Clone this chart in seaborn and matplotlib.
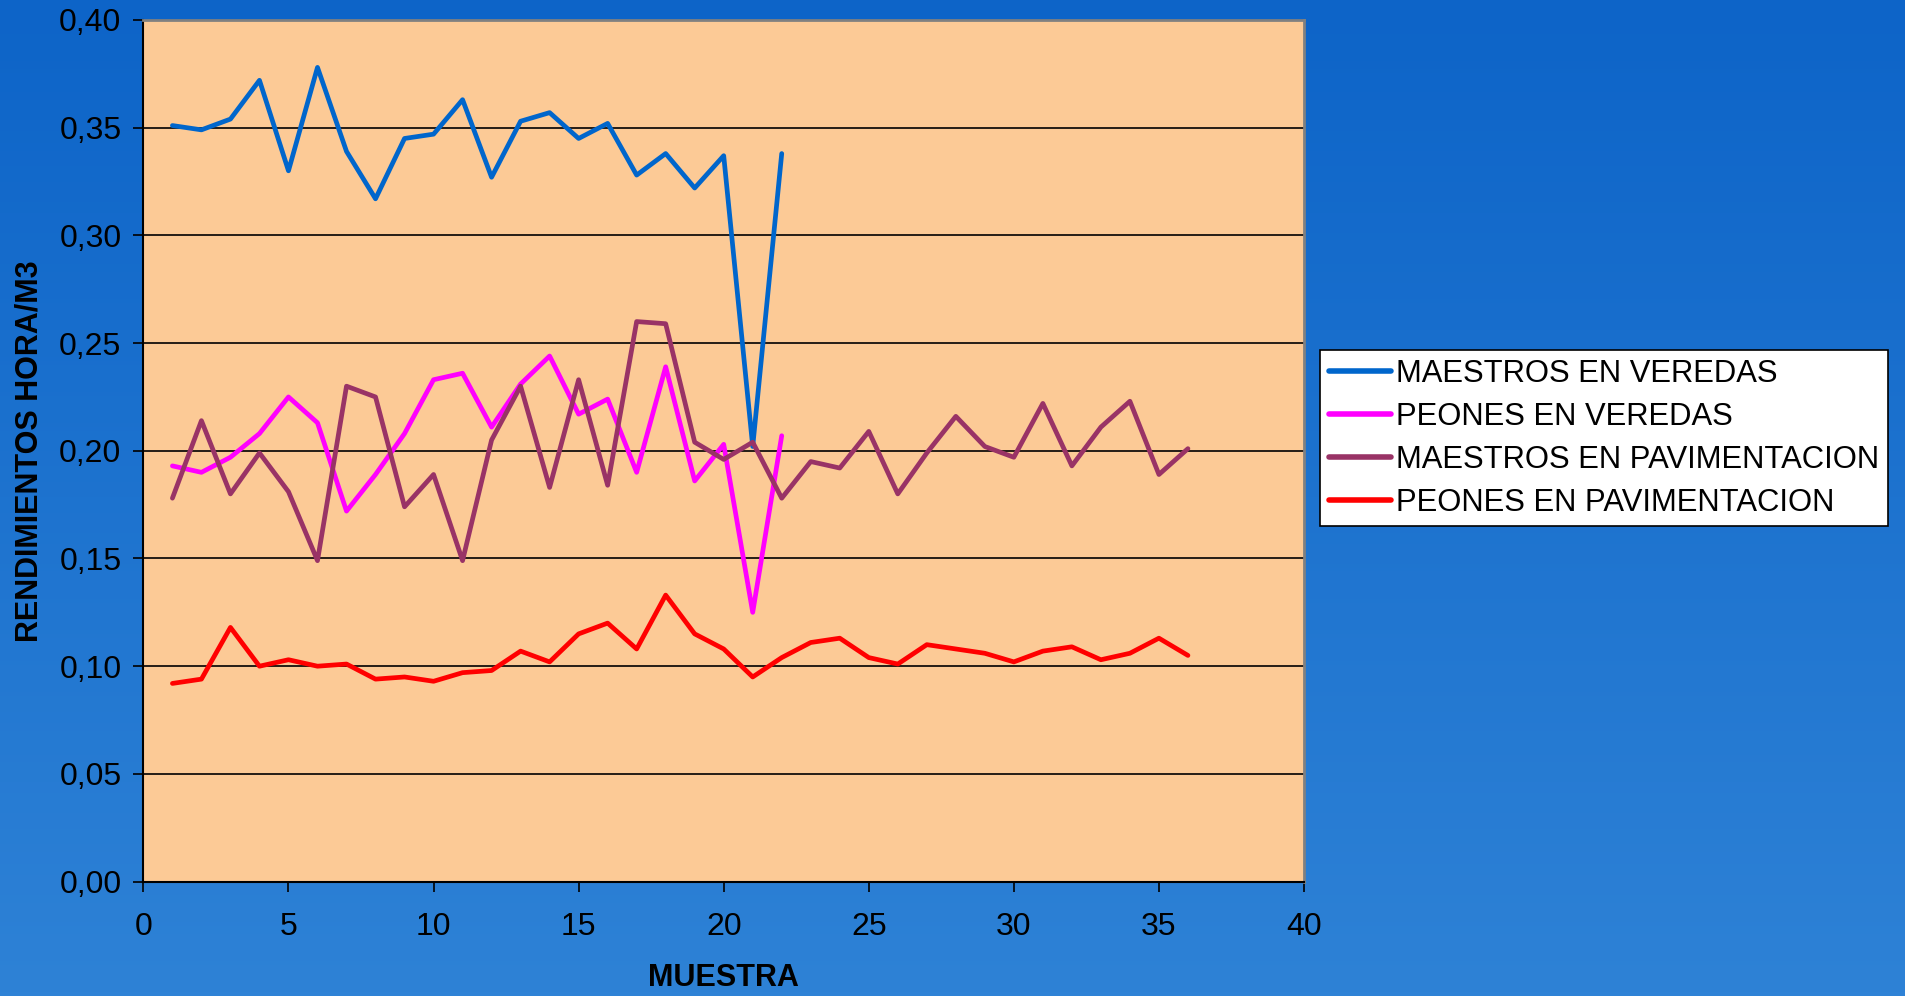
import numpy as np
import pandas as pd
import matplotlib
matplotlib.use("Agg")
import matplotlib.pyplot as plt
from matplotlib.ticker import FuncFormatter, MultipleLocator
import seaborn as sns

# ---- data ----
maestros_veredas = [0.351, 0.349, 0.354, 0.372, 0.330, 0.378, 0.339, 0.317, 0.345, 0.347,
                    0.363, 0.327, 0.353, 0.357, 0.345, 0.352, 0.328, 0.338, 0.322, 0.337,
                    0.202, 0.338]
peones_veredas = [0.193, 0.190, 0.197, 0.208, 0.225, 0.213, 0.172, 0.189, 0.208, 0.233,
                  0.236, 0.211, 0.231, 0.244, 0.217, 0.224, 0.190, 0.239, 0.186, 0.203,
                  0.125, 0.207]
maestros_pavimentacion = [0.178, 0.214, 0.180, 0.199, 0.181, 0.149, 0.230, 0.225, 0.174, 0.189,
                          0.149, 0.205, 0.230, 0.183, 0.233, 0.184, 0.260, 0.259, 0.204, 0.196,
                          0.204, 0.178, 0.195, 0.192, 0.209, 0.180, 0.199, 0.216, 0.202, 0.197,
                          0.222, 0.193, 0.211, 0.223, 0.189, 0.201]
peones_pavimentacion = [0.092, 0.094, 0.118, 0.100, 0.103, 0.100, 0.101, 0.094, 0.095, 0.093,
                        0.097, 0.098, 0.107, 0.102, 0.115, 0.120, 0.108, 0.133, 0.115, 0.108,
                        0.095, 0.104, 0.111, 0.113, 0.104, 0.101, 0.110, 0.108, 0.106, 0.102,
                        0.107, 0.109, 0.103, 0.106, 0.113, 0.105]
series_names = ["MAESTROS EN VEREDAS", "PEONES EN VEREDAS",
                "MAESTROS EN PAVIMENTACION", "PEONES EN PAVIMENTACION"]
series_colors = ["#0066CC", "#FF00FF", "#993366", "#FF0000"]
x_label = "MUESTRA"
y_label = "RENDIMIENTOS HORA/M3"

rows = []
for name, vals in zip(series_names,
                      [maestros_veredas, peones_veredas, maestros_pavimentacion, peones_pavimentacion]):
    for i, v in enumerate(vals, start=1):
        rows.append({"muestra": i, "valor": v, "serie": name})
df = pd.DataFrame(rows)

# ---- figure ----
sns.set_style("white")
plt.rcParams["font.family"] = ["Liberation Sans", "DejaVu Sans"]
plt.rcParams["text.color"] = "black"
plt.rcParams["axes.labelcolor"] = "black"

W, H, DPI = 1906, 996, 100
fig = plt.figure(figsize=(W / DPI, H / DPI), dpi=DPI)

# gradient background
bg = fig.add_axes([0, 0, 1, 1], zorder=-10)
top = np.array([13, 100, 200]) / 255
bot = np.array([46, 130, 214]) / 255
t = np.linspace(0, 1, 256)[:, None, None]
grad = top * (1 - t) + bot * t
grad = np.repeat(grad, 2, axis=1)
bg.imshow(grad, aspect="auto", extent=[0, 1, 0, 1], origin="upper")
bg.set_axis_off()

ax = fig.add_axes([143.4 / W, 1 - 881.6 / H, (1304 - 143.4) / W, (881.6 - 20) / H])
ax.set_facecolor("#FCCA96")

sns.lineplot(data=df, x="muestra", y="valor", hue="serie", hue_order=series_names,
             palette=series_colors, linewidth=3.4, ax=ax, legend=True, sort=False,
             estimator=None)

ax.set_xlim(0, 40)
ax.set_ylim(0, 0.40)
ax.xaxis.set_major_locator(MultipleLocator(5))
ax.yaxis.set_major_locator(MultipleLocator(0.05))
ax.yaxis.set_major_formatter(FuncFormatter(lambda v, p: f"{v:.2f}".replace(".", ",")))
ax.grid(axis="y", color="black", linewidth=1.2)
ax.set_axisbelow(True)
ax.tick_params(axis="both", which="major", direction="out", length=7.2, width=1.2,
               color="black", labelsize=23, labelcolor="black", left=True, bottom=True)
ax.tick_params(axis="y", pad=8.6)
ax.tick_params(axis="x", pad=15)

for s in ["left", "bottom"]:
    ax.spines[s].set_color("black")
    ax.spines[s].set_linewidth(1.5)
for s in ["top", "right"]:
    ax.spines[s].set_color("#808080")
    ax.spines[s].set_linewidth(2)

ax.set_xlabel(x_label, fontsize=22, fontweight="bold", color="black", labelpad=14.5)
ax.set_ylabel(y_label, fontsize=22, fontweight="bold", color="black")
ax.yaxis.set_label_coords(-(143.4 - 45) / (1304 - 143.4), 0.5)

handles, labels = ax.get_legend_handles_labels()
ax.get_legend().remove()
leg = fig.legend(handles, labels, loc="upper left",
                 bbox_to_anchor=(1320 / W, 1 - 350 / H), bbox_transform=fig.transFigure,
                 borderaxespad=0, frameon=True, fancybox=False, fontsize=22.3,
                 labelspacing=0.42, handlelength=2.0, handletextpad=0.18,
                 borderpad=0.28, labelcolor="black")
leg.get_frame().set_edgecolor("black")
leg.get_frame().set_linewidth(1.2)
leg.get_frame().set_facecolor("white")
leg.get_frame().set_alpha(1)
for line in leg.get_lines():
    line.set_linewidth(4)

fig.savefig("out.png", dpi=DPI)
